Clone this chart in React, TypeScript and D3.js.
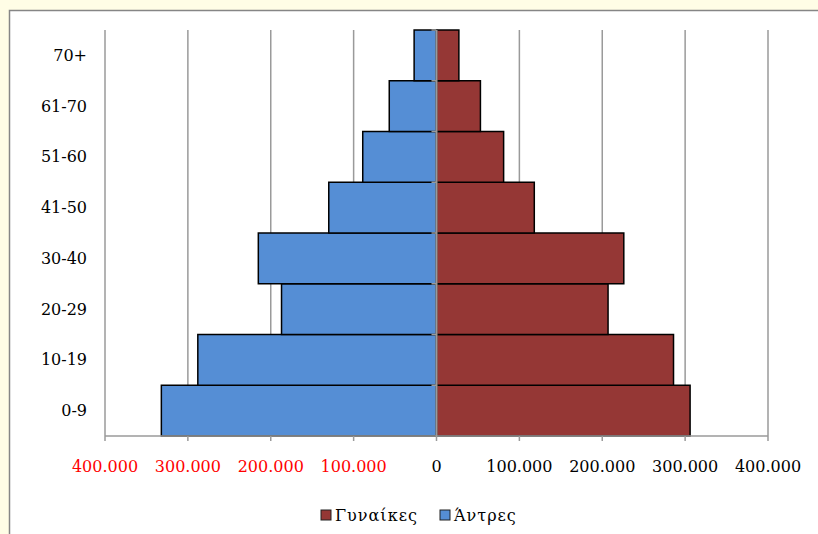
import React from "react";
import * as d3 from "d3";

const categories = ["0-9", "10-19", "20-29", "30-40", "41-50", "51-60", "61-70", "70+"];
const men = [332000, 288000, 187000, 215000, 130000, 89000, 57000, 27000];
const women = [306000, 286000, 207000, 226000, 118000, 81000, 53000, 27000];
const ticks = [-400000, -300000, -200000, -100000, 0, 100000, 200000, 300000, 400000];
const seriesNames = ["Γυναίκες", "Άντρες"];

const WIDTH = 818;
const HEIGHT = 534;
const MARGIN = { top: 30, right: 50, bottom: 98, left: 105 };
const BLUE = "#558ED5";
const RED = "#953735";
const GRID = "#9a9a9a";
const FONT = "'DejaVu Serif', serif";

const fmt = (v: number) =>
  d3.format(",")(Math.abs(v)).replace(/,/g, ".");

const App = () => {
  const innerW = WIDTH - MARGIN.left - MARGIN.right;
  const innerH = HEIGHT - MARGIN.top - MARGIN.bottom;

  const x = d3.scaleLinear().domain([-400000, 400000]).range([0, innerW]);
  const y = d3
    .scaleBand<string>()
    .domain([...categories].reverse())
    .range([0, innerH])
    .padding(0);

  const legendItems = [
    { name: seriesNames[0], color: RED, x: 321 },
    { name: seriesNames[1], color: BLUE, x: 440 },
  ];

  return (
    <div style={{ position: "absolute", left: 0, top: 0 }}>
      <svg width={WIDTH} height={HEIGHT} style={{ display: "block" }}>
        <rect x={0} y={0} width={WIDTH} height={HEIGHT} fill="#FFFDE6" />
        <rect
          x={9.5}
          y={10.5}
          width={WIDTH + 10}
          height={HEIGHT + 10}
          fill="#ffffff"
          stroke="#868686"
          strokeWidth={1.5}
        />
        <g transform={`translate(${MARGIN.left},${MARGIN.top})`}>
          {/* gridlines */}
          {ticks
            .filter((t) => t !== 0)
            .map((t) => (
              <line
                key={`g${t}`}
                x1={x(t)}
                x2={x(t)}
                y1={0}
                y2={innerH}
                stroke={GRID}
                strokeWidth={1.5}
              />
            ))}

          {/* bars */}
          {categories.map((c, i) => (
            <g key={c}>
              <rect
                x={x(-men[i])}
                y={y(c)!}
                width={x(0) - x(-men[i])}
                height={y.bandwidth()}
                fill={BLUE}
                stroke="#000"
                strokeWidth={1.5}
              />
              <rect
                x={x(0)}
                y={y(c)!}
                width={x(women[i]) - x(0)}
                height={y.bandwidth()}
                fill={RED}
                stroke="#000"
                strokeWidth={1.5}
              />
            </g>
          ))}

          {/* category axis at zero */}
          <line
            x1={x(0)}
            x2={x(0)}
            y1={0}
            y2={innerH}
            stroke={GRID}
            strokeWidth={2}
          />
          {categories.map((c) => (
            <line
              key={`ct${c}`}
              x1={x(0) - 5}
              x2={x(0)}
              y1={y(c)!}
              y2={y(c)!}
              stroke={GRID}
              strokeWidth={1.5}
            />
          ))}
          {categories.map((c) => (
            <text
              key={`cl${c}`}
              x={-18}
              y={y(c)! + y.bandwidth() / 2}
              dy="0.35em"
              textAnchor="end"
              fontFamily={FONT}
              fontSize={16}
              fill="#000"
            >
              {c}
            </text>
          ))}

          {/* value axis */}
          <line
            x1={0}
            x2={innerW}
            y1={innerH}
            y2={innerH}
            stroke={GRID}
            strokeWidth={1.5}
          />
          {ticks.map((t) => (
            <g key={`t${t}`}>
              <line
                x1={x(t)}
                x2={x(t)}
                y1={innerH}
                y2={innerH + 5}
                stroke={GRID}
                strokeWidth={1.5}
              />
              <text
                x={x(t)}
                y={innerH + 30}
                dy="0.35em"
                textAnchor="middle"
                fontFamily={FONT}
                fontSize={16}
                fill={t < 0 ? "#FF0000" : "#000"}
              >
                {fmt(t)}
              </text>
            </g>
          ))}
        </g>

        {/* legend */}
        {legendItems.map((d) => (
          <g key={d.name} transform={`translate(${d.x},515)`}>
            <rect
              x={0}
              y={-5}
              width={10}
              height={10}
              fill={d.color}
              stroke="#222"
              strokeWidth={1}
            />
            <text
              x={14}
              y={0}
              dy="0.35em"
              fontFamily={FONT}
              fontSize={16}
              letterSpacing={1}
              fill="#000"
            >
              {d.name}
            </text>
          </g>
        ))}
      </svg>
    </div>
  );
};

export default App;
